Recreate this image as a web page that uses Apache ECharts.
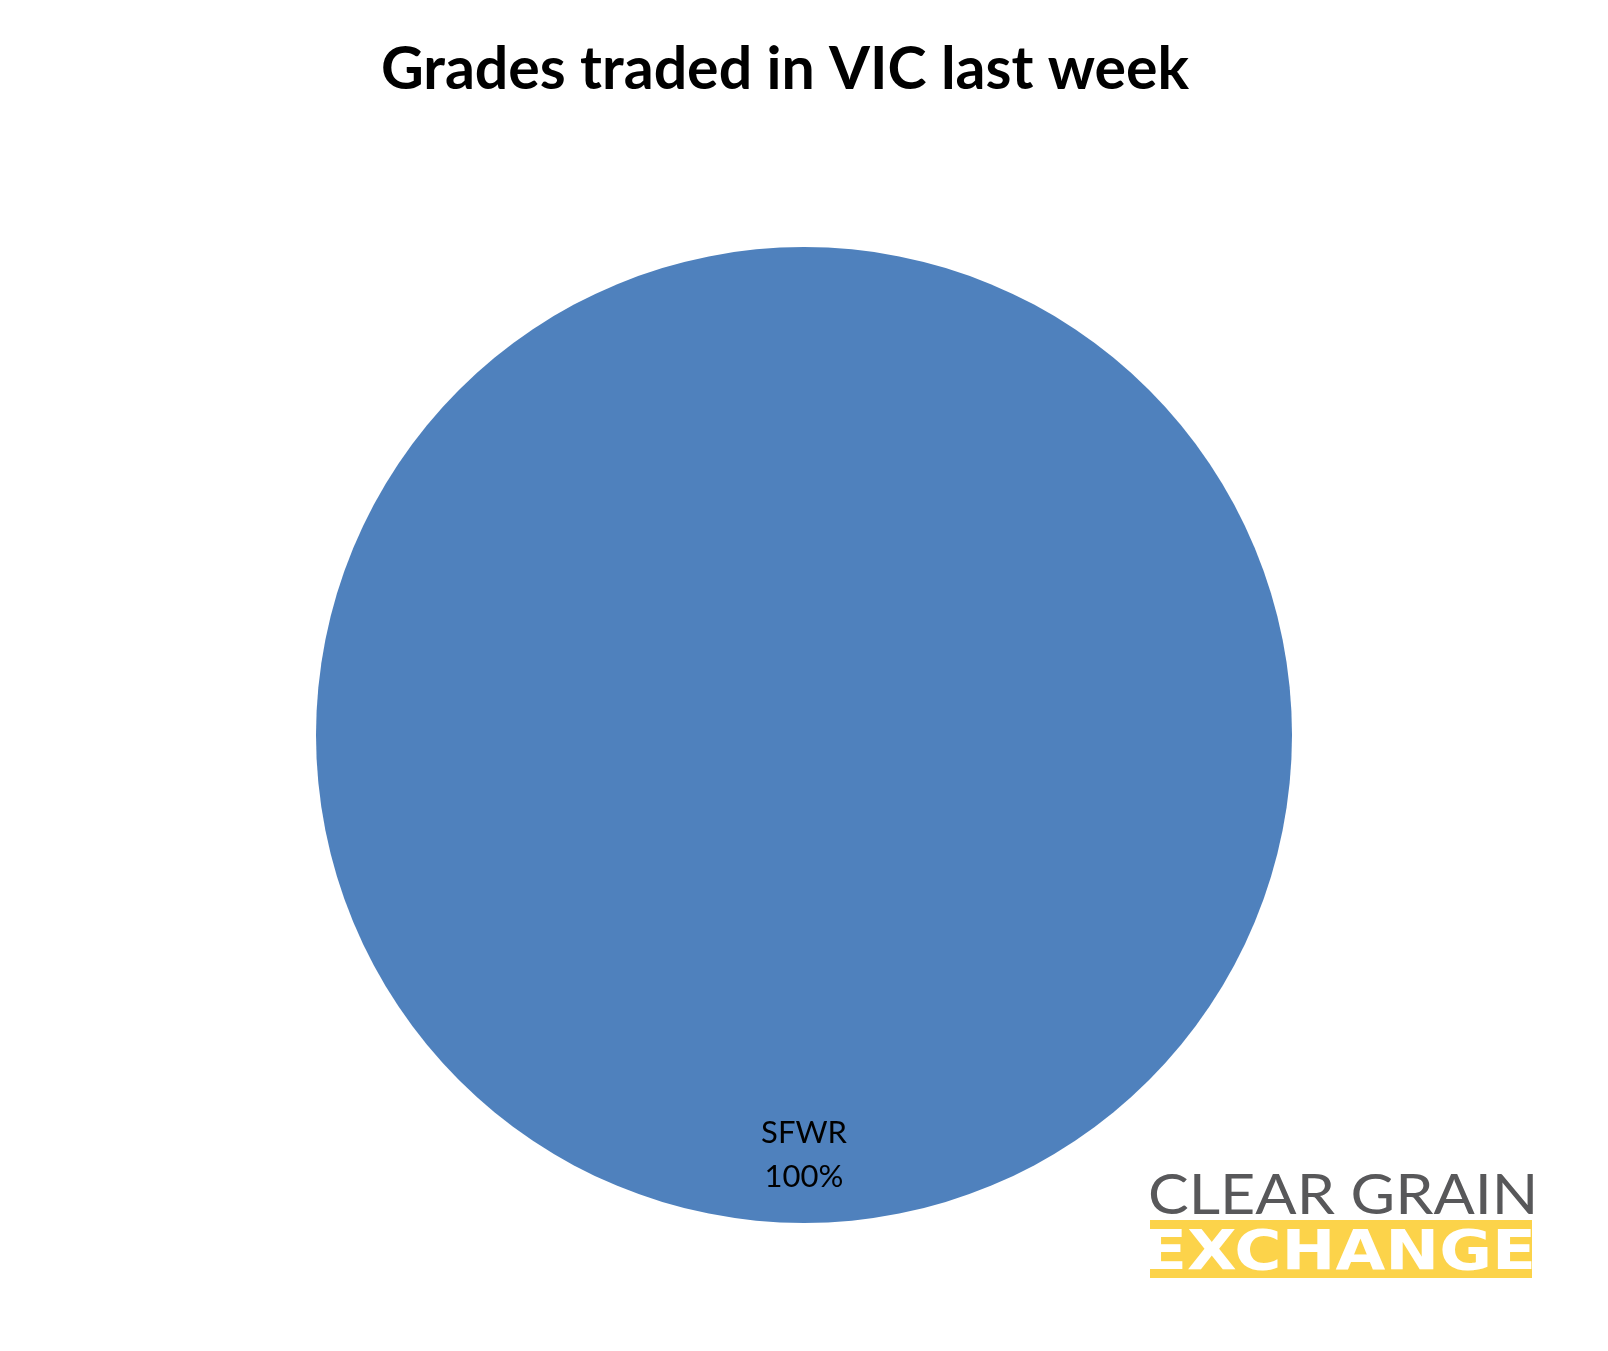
<!DOCTYPE html>
<html>
<head>
<meta charset="utf-8">
<script src="https://cdn.jsdelivr.net/npm/echarts@6/dist/echarts.min.js"></script>
<style>
html,body{margin:0;padding:0;background:#fff;}
#chart{width:1608px;height:1351px;}
</style>
</head>
<body>
<div id="chart"></div>
<script>
const chartTitle = 'Grades traded in VIC last week';
const categories = ['SFWR'];
const values = [100];
const sliceColors = ['#4F81BD'];

const chart = echarts.init(document.getElementById('chart'), null, {renderer: 'canvas'});
const data = categories.map((c, i) => ({name: c, value: values[i], itemStyle: {color: sliceColors[i]}}));

chart.setOption({
  animation: false,
  backgroundColor: '#ffffff',
  title: {
    text: chartTitle,
    left: 780,
    textAlign: 'center',
    top: 35,
    textStyle: {fontFamily: 'Lato', fontWeight: 'bold', fontSize: 59, color: '#000'}
  },
  series: [{
    type: 'pie',
    center: [804, 735],
    radius: [0, 488],
    startAngle: 90,
    clockwise: true,
    silent: true,
    data: data,
    itemStyle: {borderWidth: 0},
    label: {
      show: true,
      position: 'inside',
      offset: [0, 173],
      formatter: '{b}\n{d}%',
      color: '#000',
      fontFamily: 'Lato',
      fontSize: 31,
      lineHeight: 44
    },
    labelLine: {show: false},
    emphasis: {disabled: true}
  }],
  graphic: [
    {
      type: 'text',
      x: 1148, y: 1196, scaleX: 1.09,
      style: {text: 'CLEAR GRAIN', fill: '#58585A', fontFamily: 'Lato', fontWeight: 'normal', fontSize: 56, textVerticalAlign: 'middle', textAlign: 'left'}
    },
    {
      type: 'rect',
      shape: {x: 1150, y: 1220, width: 382, height: 58},
      style: {fill: '#FCD34A'}
    },
    {
      type: 'text',
      x: 1143, y: 1254, scaleX: 1.15,
      style: {text: 'EXCHANGE', fill: '#ffffff', fontFamily: 'DejaVu Sans', fontWeight: 'bold', fontSize: 56, textVerticalAlign: 'middle', textAlign: 'left'}
    }
  ]
});
</script>
</body>
</html>
